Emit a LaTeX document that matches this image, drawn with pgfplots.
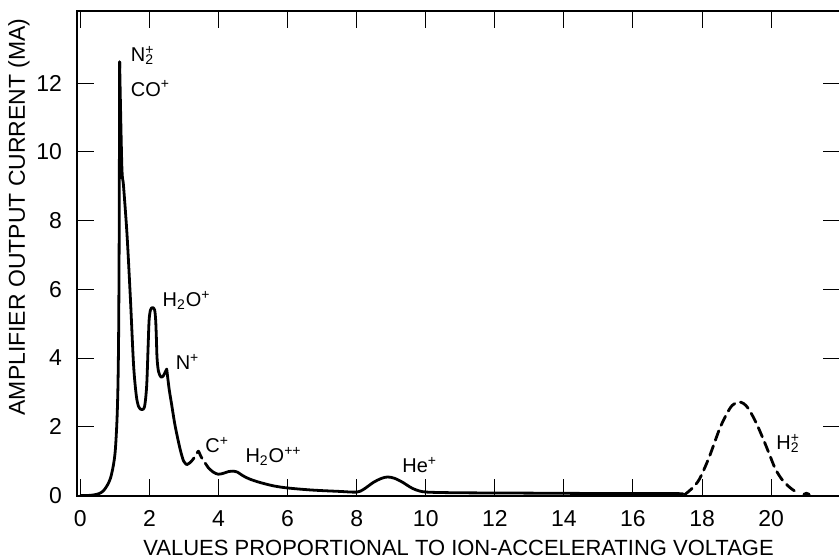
\documentclass[border=0pt]{standalone}
\usepackage{fontspec}
\setmainfont{Liberation Sans}
\usepackage{pgfplots}
\pgfplotsset{compat=1.18}

% ion label: subscript stacked under the following superscript
\newcommand{\ionsub}[1]{\rlap{\textsubscript{#1}}}

\begin{document}
\begin{tikzpicture}
\begin{axis}[
  scale only axis,
  width=382pt, height=242.5pt,
  xmin=-0.1, xmax=22, ymin=0, ymax=14.1,
  xtick={0,2,...,20}, ytick={0,2,...,12},
  tick align=inside,
  major tick length=8.5pt,
  every tick/.style={black, line width=0.5pt},
  axis line style={line width=1pt},
  tick label style={font=\fontsize{11.5}{12}\selectfont},
  /pgf/number format/assume math mode=true,
  xticklabel style={yshift=-4pt},
  yticklabel style={xshift=-4pt},
  xlabel={VALUES PROPORTIONAL TO ION-ACCELERATING VOLTAGE},
  ylabel={AMPLIFIER OUTPUT CURRENT (MA)},
  xlabel style={at={(axis description cs:0.5,0)}, anchor=center, yshift=-26pt, font=\fontsize{11}{12}\selectfont},
  ylabel style={at={(axis description cs:-0.076,0.575)}, anchor=center, font=\fontsize{11.5}{12}\selectfont},
  every axis plot/.append style={black, line width=1.4pt, line join=round, line cap=round},
]
\coordinate (ll) at (rel axis cs:0,0);
\coordinate (ur) at (rel axis cs:1,1);

% rise to the N2+/CO+ peak
\addplot[smooth, tension=0.5] coordinates {
  (0,0) (0.2,0) (0.4,0.02) (0.55,0.06) (0.67,0.14) (0.78,0.3) (0.87,0.5)
  (0.95,0.85) (1.01,1.3) (1.06,2.2) (1.09,3.3) (1.11,5.0) (1.125,8) (1.136,12.62)
};
% fall, H2O+ peak and N+ shoulder
\addplot[smooth, tension=0.5] coordinates {
  (1.136,12.62) (1.2,9.6) (1.25,9.0) (1.35,7.6) (1.45,5.7) (1.54,3.8) (1.62,2.9)
  (1.69,2.58) (1.78,2.5) (1.86,2.6) (1.92,3.2) (1.96,4.3) (1.99,5.1) (2.03,5.4)
  (2.09,5.47) (2.15,5.4) (2.18,5.1) (2.2,4.6) (2.22,4.0) (2.26,3.62) (2.33,3.45)
  (2.4,3.48) (2.46,3.6) (2.5,3.68)
};
\addplot[smooth, tension=0.5] coordinates {
  (2.5,3.68) (2.57,3.1) (2.65,2.6) (2.73,2.1) (2.81,1.7) (2.9,1.3) (2.99,1.0) (3.08,0.9)
};
% C+ (dashed)
\addplot[smooth, tension=0.5, dash pattern=on 5pt off 3pt] coordinates {
  (3.08,0.9) (3.18,0.96) (3.28,1.08) (3.37,1.22) (3.42,1.29) (3.47,1.18)
  (3.54,1.05) (3.61,0.95) (3.71,0.8)
};
% H2O++ and He+ and the flat tail
\addplot[smooth, tension=0.5] coordinates {
  (3.71,0.8) (3.85,0.68) (3.99,0.62) (4.15,0.65) (4.3,0.7) (4.42,0.71) (4.55,0.68)
  (4.7,0.58) (4.9,0.48) (5.2,0.38) (5.6,0.28) (6.0,0.22) (6.7,0.16) (7.5,0.12)
  (8.0,0.1) (8.2,0.18) (8.48,0.38) (8.72,0.5) (8.9,0.54) (9.1,0.5) (9.34,0.38)
  (9.54,0.25) (9.73,0.16) (10.03,0.1) (11,0.08) (13,0.07) (15,0.06) (17,0.06) (17.45,0.05)
};
% H2+ (dashed)
\addplot[smooth, tension=0.5, dash pattern=on 5pt off 3pt] coordinates {
  (17.49,0.02) (17.7,0.2) (17.92,0.47) (18.2,1.1) (18.5,1.92) (18.7,2.35) (18.87,2.62)
  (19.05,2.72) (19.2,2.68) (19.35,2.52) (19.55,2.15) (19.74,1.72) (19.95,1.2)
  (20.13,0.76) (20.35,0.42) (20.61,0.18) (20.8,0.07)
};
\addplot[line width=1.6pt] coordinates {(20.95,0.03) (21.02,0.06) (21.1,0.03)};

% peak labels
\begin{scope}[every node/.style={anchor=base west, inner sep=0pt, font=\fontsize{10}{12}\selectfont}]
\node at (axis cs:1.45,12.62) {N\ionsub{2}\textsuperscript{+}};
\node at (axis cs:1.45,11.62) {CO\textsuperscript{+}};
\node at (axis cs:2.37,5.49) {H\textsubscript{2}O\textsuperscript{+}};
\node at (axis cs:2.75,3.66) {N\textsuperscript{+}};
\node at (axis cs:3.61,1.25) {C\textsuperscript{+}};
\node at (axis cs:4.77,0.96) {H\textsubscript{2}O\textsuperscript{++}};
\node at (axis cs:9.31,0.67) {He\textsuperscript{+}};
\node at (axis cs:20.14,1.34) {H\ionsub{2}\textsuperscript{+}};
\end{scope}
\end{axis}
\pgfresetboundingbox
\path[use as bounding box] ([xshift=-38.5pt,yshift=-31pt]ll) rectangle ([xshift=-0.6pt,yshift=5.5pt]ur);
\end{tikzpicture}
\end{document}
